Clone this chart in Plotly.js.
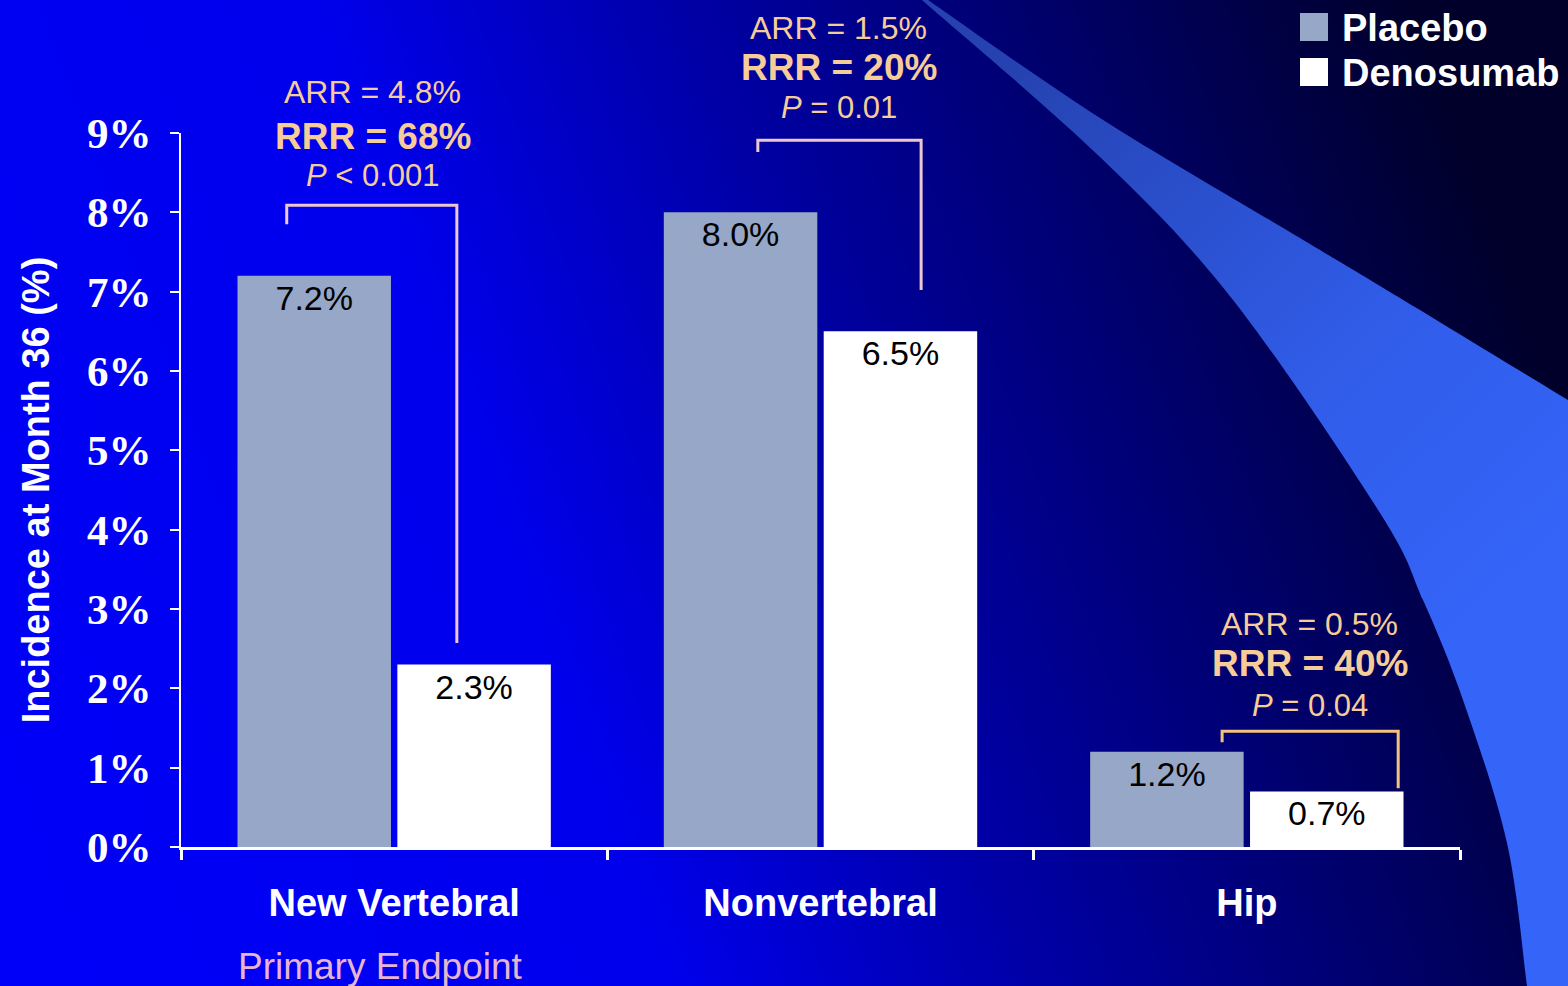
<!DOCTYPE html>
<html><head><meta charset="utf-8">
<script src="https://cdn.plot.ly/plotly-3.0.1.min.js"></script>
<style>
html,body{margin:0;padding:0;overflow:hidden;background:#0000c0}
#bg{position:absolute;left:0;top:0}
#chart{position:absolute;left:0;top:0;width:1568px;height:986px}
</style>
</head><body>
<svg id="bg" width="1568" height="986" xmlns="http://www.w3.org/2000/svg">
  <defs>
    <linearGradient id="bgGrad" gradientUnits="userSpaceOnUse" x1="0" y1="986" x2="1568" y2="420">
      <stop offset="0" stop-color="#0000FA"/>
      <stop offset="0.38" stop-color="#0000EC"/>
      <stop offset="0.58" stop-color="#0000A8"/>
      <stop offset="0.8" stop-color="#000066"/>
      <stop offset="1" stop-color="#00002A"/>
    </linearGradient>
    <linearGradient id="swGrad" gradientUnits="userSpaceOnUse" x1="1000" y1="80" x2="1500" y2="600">
      <stop offset="0" stop-color="#2542B0"/>
      <stop offset="0.6" stop-color="#305CE8"/>
      <stop offset="1" stop-color="#3464F8"/>
    </linearGradient>
  </defs>
  <rect x="0" y="0" width="1568" height="986" fill="url(#bgGrad)"/>
  <path id="swoosh" fill="url(#swGrad)" d=""/>
</svg>
<div id="chart"></div>
<script>
// ---- data ----
const categories = ["New Vertebral", "Nonvertebral", "Hip"];
const seriesNames = ["Placebo", "Denosumab"];
const placebo = [7.2, 8.0, 1.2];
const denosumab = [2.3, 6.5, 0.7];
const yTickValues = [0, 1, 2, 3, 4, 5, 6, 7, 8, 9];
const yTickLabels = ["0%", "1%", "2%", "3%", "4%", "5%", "6%", "7%", "8%", "9%"];
const arrLabels = ["ARR = 4.8%", "ARR = 1.5%", "ARR = 0.5%"];
const rrrLabels = ["RRR = 68%", "RRR = 20%", "RRR = 40%"];
const pLabels = ["<i>P</i> &lt; 0.001", "<i>P</i> = 0.01", "<i>P</i> = 0.04"];
const yTitle = "Incidence at Month 36 (%)";
const subLabel = "Primary Endpoint";

// ---- decorative swoosh (background) ----
(function () {
  const upper = [[928, 0], [1100, 118], [1300, 238], [1400, 298], [1568, 400]];
  const lower = [[1527, 986], [1507, 843], [1463, 700], [1423, 600], [1380, 513], [1233, 300], [1100, 157], [922, 0]];
  function smooth(pts) {
    let d = "";
    for (let i = 0; i < pts.length - 1; i++) {
      const p0 = pts[i - 1] || pts[i], p1 = pts[i], p2 = pts[i + 1], p3 = pts[i + 2] || p2;
      const c1 = [p1[0] + (p2[0] - p0[0]) / 6, p1[1] + (p2[1] - p0[1]) / 6];
      const c2 = [p2[0] - (p3[0] - p1[0]) / 6, p2[1] - (p3[1] - p1[1]) / 6];
      d += " C" + c1.join(",") + " " + c2.join(",") + " " + p2.join(",");
    }
    return d;
  }
  const d = "M" + upper[0].join(",") + smooth(upper) + " L1568,986 L" + lower[0].join(",") + smooth(lower) + " Z";
  document.getElementById("swoosh").setAttribute("d", d);
})();

// ---- layout helpers ----
const W = 1568, H = 986;
const M = {l: 181, r: 108, t: 133, b: 139};
const Y_RANGE = [0, 9];
const pw = W - M.l - M.r, ph = H - M.t - M.b;
const px = x => (x - M.l) / pw;
const py = y => (H - M.b - y) / ph;
const yv = v => (v - Y_RANGE[0]) / (Y_RANGE[1] - Y_RANGE[0]);   // y axis value -> paper

const FONT = "Liberation Sans, Arial, sans-serif";
const statColor = "#F6CC98";
const statPos = [
  {x: -0.05, y: [9.52, 8.96, 8.46]},
  {x: 1.043, y: [10.32, 9.82, 9.32]},
  {x: 2.147, y: [2.81, 2.31, 1.78]}
];
const brackets = [
  {x0: -0.252, x1: 0.147, top: 8.09, left: 7.85, right: 2.57, color: "#EEC6CE"},
  {x0: 0.853, x1: 1.236, top: 8.91, left: 8.76, right: 7.02, color: "#EEC6CE"},
  {x0: 1.942, x1: 2.355, top: 1.46, left: 1.32, right: 0.74, color: "#F2C27E"}
];
const fillColors = ["#97A7C7", "#FFFFFF"];

const traces = [placebo, denosumab].map((vals, i) => ({
  type: "bar",
  name: seriesNames[i],
  x: categories,
  y: vals,
  marker: {color: fillColors[i], line: {width: 0}},
  texttemplate: "%{y:.1f}%",
  textposition: "inside",
  insidetextanchor: "end",
  textangle: 0,
  constraintext: "none",
  textfont: {family: FONT, size: 34, color: "#000000"},
  hoverinfo: "skip",
  showlegend: false
}));

const shapes = [];
brackets.forEach(b => {
  shapes.push({
    type: "path", xref: "x", yref: "y",
    path: `M${b.x0},${b.left} L${b.x0},${b.top} L${b.x1},${b.top} L${b.x1},${b.right}`,
    line: {color: b.color, width: 3}
  });
});
// legend swatches
shapes.push({type: "rect", xref: "paper", yref: "paper", x0: px(1300), x1: px(1328), y0: py(41), y1: py(13), fillcolor: fillColors[0], line: {width: 0}});
shapes.push({type: "rect", xref: "paper", yref: "paper", x0: px(1300), x1: px(1328), y0: py(86), y1: py(58), fillcolor: fillColors[1], line: {width: 0}});

const annotations = [];
statPos.forEach((s, i) => {
  const common = {x: s.x, xref: "x", yref: "paper", xanchor: "center", yanchor: "middle", showarrow: false};
  annotations.push(Object.assign({y: yv(s.y[0]), text: arrLabels[i],
    font: {family: FONT, size: 32, color: statColor}}, common));
  annotations.push(Object.assign({y: yv(s.y[1]), text: "<b>" + rrrLabels[i] + "</b>",
    font: {family: FONT, size: 37, color: statColor}}, common));
  annotations.push(Object.assign({y: yv(s.y[2]), text: pLabels[i],
    font: {family: FONT, size: 31, color: statColor}}, common));
});
annotations.push({x: px(1340), y: py(28), xref: "paper", yref: "paper", xanchor: "left", yanchor: "middle",
  text: "<b>" + seriesNames[0] + "</b>", showarrow: false, font: {family: FONT, size: 38, color: "#FFFFFF"}});
annotations.push({x: px(1340), y: py(73), xref: "paper", yref: "paper", xanchor: "left", yanchor: "middle",
  text: "<b>" + seriesNames[1] + "</b>", showarrow: false, font: {family: FONT, size: 38, color: "#FFFFFF"}});
annotations.push({x: px(380), y: py(966), xref: "paper", yref: "paper", xanchor: "center", yanchor: "middle",
  text: subLabel, showarrow: false, font: {family: FONT, size: 37, color: "#E8B4CE"}});

const layout = {
  width: W, height: H,
  margin: M,
  paper_bgcolor: "rgba(0,0,0,0)",
  plot_bgcolor: "rgba(0,0,0,0)",
  barmode: "group",
  bargap: 0.25,
  bargroupgap: 0.04,
  showlegend: false,
  xaxis: {
    type: "category",
    showgrid: false, zeroline: false,
    showline: true, linecolor: "#FFFFFF", linewidth: 3,
    ticks: "outside", tickson: "boundaries", ticklen: 10, tickwidth: 3, tickcolor: "#FFFFFF",
    ticklabelstandoff: 20,
    tickfont: {family: FONT, size: 38, color: "#FFFFFF", weight: "bold"}
  },
  yaxis: {
    range: Y_RANGE,
    tickvals: yTickValues, ticktext: yTickLabels,
    showgrid: false, zeroline: false,
    showline: true, linecolor: "#FFFFFF", linewidth: 2,
    ticks: "outside", ticklen: 9, tickwidth: 2, tickcolor: "#FFFFFF",
    ticklabelstandoff: 10,
    tickfont: {family: "Liberation Serif, Times New Roman, serif", size: 43, color: "#FFFFFF", weight: "bold"},
    title: {text: yTitle, standoff: 26,
      font: {family: FONT, size: 38, color: "#FFFFFF", weight: "bold"}}
  },
  shapes: shapes,
  annotations: annotations
};

Plotly.newPlot("chart", traces, layout, {displayModeBar: false, staticPlot: true});
</script>
</body></html>
